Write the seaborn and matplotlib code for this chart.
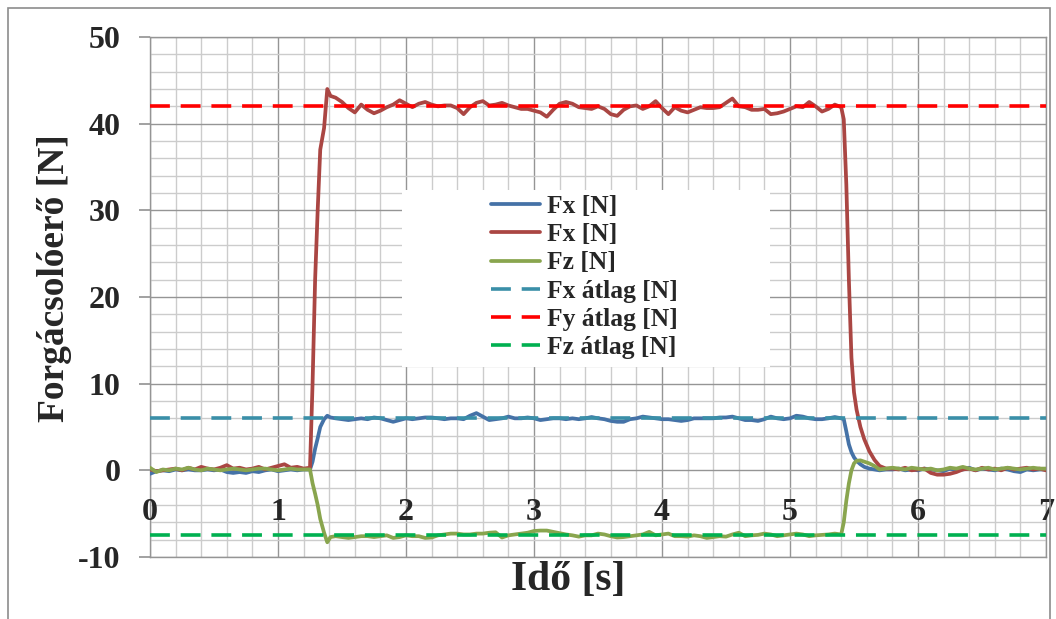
import numpy as np
import pandas as pd
import matplotlib
matplotlib.use("Agg")
import matplotlib.pyplot as plt
from matplotlib.patches import Rectangle
from matplotlib.ticker import MultipleLocator
import seaborn as sns

# time axis [s]
t = [0.00, 0.05, 0.10, 0.15, 0.20, 0.25, 0.30, 0.35, 0.40, 0.45,
     0.50, 0.55, 0.60, 0.65, 0.70, 0.75, 0.80, 0.85, 0.90, 0.95,
     1.00, 1.05, 1.10, 1.15, 1.20, 1.25,
     1.27, 1.29, 1.31, 1.33, 1.36, 1.385, 1.41,
     1.45, 1.50, 1.55, 1.60, 1.65, 1.70, 1.75, 1.80, 1.85, 1.90,
     1.95, 2.00, 2.05, 2.10, 2.15, 2.20, 2.25, 2.30, 2.35, 2.40,
     2.45, 2.50, 2.55, 2.60, 2.65, 2.70, 2.75, 2.80, 2.85, 2.90,
     2.95, 3.00, 3.05, 3.10, 3.15, 3.20, 3.25, 3.30, 3.35, 3.40,
     3.45, 3.50, 3.55, 3.60, 3.65, 3.70, 3.75, 3.80, 3.85, 3.90,
     3.95, 4.00, 4.05, 4.10, 4.15, 4.20, 4.25, 4.30, 4.35, 4.40,
     4.45, 4.50, 4.55, 4.60, 4.65, 4.70, 4.75, 4.80, 4.85, 4.90,
     4.95, 5.00, 5.05, 5.10, 5.15, 5.20, 5.25, 5.30, 5.35, 5.40,
     5.42, 5.44, 5.46, 5.48, 5.50, 5.52, 5.55, 5.58, 5.62, 5.66, 5.70, 5.75,
     5.80, 5.85, 5.90, 5.95, 6.00, 6.05, 6.10, 6.15, 6.20, 6.25,
     6.30, 6.35, 6.40, 6.45, 6.50, 6.55, 6.60, 6.65, 6.70, 6.75,
     6.80, 6.85, 6.90, 6.95, 7.00]

fx = [-0.4, -0.1, 0.0, -0.1, 0.1, 0.0, 0.1, 0.0, 0.0, 0.1,
      0.0, 0.1, -0.2, -0.3, -0.2, -0.3, -0.1, -0.2, 0.0, 0.1,
      -0.1, 0.0, 0.1, 0.0, 0.1, 0.1,
      1.0, 2.5, 3.7, 5.0, 5.9, 6.3, 6.1,
      6.0, 5.9, 5.8, 5.9, 6.0, 5.9, 6.1, 6.0, 5.8, 5.6,
      5.8, 6.0, 5.9, 6.0, 6.1, 6.1, 6.0, 5.9, 6.0, 6.0,
      5.9, 6.3, 6.6, 6.2, 5.8, 5.9, 6.0, 6.2, 6.0, 6.0,
      6.1, 6.0, 5.8, 5.9, 6.0, 6.0, 5.9, 6.0, 5.9, 6.0,
      6.15, 6.0, 5.9, 5.7, 5.6, 5.6, 5.9, 6.0, 6.2, 6.1,
      6.0, 5.9, 5.9, 5.8, 5.7, 5.8, 6.0, 6.0, 6.0, 6.0,
      6.1, 6.1, 6.2, 6.0, 5.8, 5.8, 5.7, 5.9, 6.2, 6.0,
      5.9, 6.0, 6.3, 6.2, 6.0, 5.9, 5.9, 6.0, 6.15, 6.0,
      5.9, 4.5, 3.0, 2.1, 1.5, 1.1, 0.7, 0.4, 0.2, 0.1, 0.0, 0.1,
      0.1, 0.2, 0.0, 0.1, 0.0, 0.2, 0.1, 0.0, -0.1, 0.2,
      0.0, 0.1, 0.3, 0.0, 0.2, 0.1, 0.0, 0.2, 0.1, -0.1,
      -0.2, 0.1, 0.0, 0.1, 0.1]

fy = [0.1, -0.1, 0.0, 0.1, 0.2, 0.0, 0.3, 0.1, 0.4, 0.2,
      0.1, 0.3, 0.6, 0.2, 0.3, 0.1, 0.2, 0.4, 0.1, 0.3,
      0.5, 0.7, 0.3, 0.4, 0.2, 0.3,
      10.0, 22.0, 30.0, 37.0, 39.5, 44.0, 43.2,
      43.0, 42.5, 41.8, 41.3, 42.2, 41.6, 41.2, 41.5, 41.9, 42.2,
      42.7, 42.3, 41.9, 42.3, 42.5, 42.2, 42.0, 42.1, 42.1, 41.8,
      41.1, 41.9, 42.4, 42.6, 42.1, 42.2, 42.4, 42.1, 41.9, 41.7,
      41.7, 41.5, 41.3, 40.8, 41.6, 42.3, 42.5, 42.3, 41.9, 41.8,
      41.7, 42.0, 41.7, 41.1, 40.9, 41.6, 42.0, 42.1, 41.7, 42.0,
      42.6, 41.8, 41.1, 41.9, 41.5, 41.3, 41.6, 41.9, 41.8, 41.8,
      41.9, 42.4, 42.9, 42.0, 41.9, 41.6, 41.6, 41.7, 41.1, 41.2,
      41.4, 41.7, 42.0, 41.9, 42.5, 42.0, 41.4, 41.7, 42.2, 41.9,
      40.5, 33.0, 22.0, 13.0, 9.0, 7.0, 5.0, 3.6, 2.2, 1.2, 0.5, 0.2,
      0.2, 0.1, 0.3, 0.0, 0.1, 0.2, -0.3, -0.5, -0.5, -0.4,
      -0.2, 0.1, 0.2, 0.0, 0.3, 0.1, 0.2, 0.0, 0.3, 0.1,
      0.2, 0.3, 0.1, 0.2, 0.0]

fz = [0.3, -0.2, 0.1, 0.0, 0.2, 0.1, 0.3, 0.1, 0.0, 0.2,
      0.1, 0.0, 0.1, 0.2, 0.1, 0.0, 0.1, 0.2, 0.2, 0.1,
      0.0, 0.1, 0.2, 0.1, 0.1, 0.1,
      -1.5, -2.7, -4.0, -5.6, -7.2, -8.3, -7.7,
      -7.6, -7.7, -7.8, -7.7, -7.6, -7.6, -7.7, -7.6, -7.5, -7.8,
      -7.7, -7.5, -7.6, -7.6, -7.8, -7.75, -7.5, -7.4, -7.3, -7.3,
      -7.4, -7.4, -7.3, -7.3, -7.2, -7.15, -7.75, -7.5, -7.4, -7.3,
      -7.2, -7.0, -6.95, -6.95, -7.1, -7.25, -7.4, -7.5, -7.65, -7.5,
      -7.5, -7.3, -7.4, -7.6, -7.75, -7.7, -7.6, -7.5, -7.4, -7.1,
      -7.5, -7.4, -7.3, -7.6, -7.6, -7.65, -7.5, -7.6, -7.8, -7.7,
      -7.6, -7.65, -7.4, -7.2, -7.6, -7.5, -7.45, -7.3, -7.4, -7.6,
      -7.5, -7.4, -7.3, -7.4, -7.6, -7.5, -7.45, -7.4, -7.3, -7.4,
      -6.0, -3.5, -1.5, 0.0, 0.8, 1.1, 1.15, 1.0, 0.8, 0.5, 0.1, 0.2,
      0.3, 0.2, 0.1, 0.3, 0.2, 0.1, 0.2, 0.0, 0.1, 0.3,
      0.2, 0.4, 0.2, 0.1, 0.2, 0.3, 0.1, 0.2, 0.3, 0.2,
      0.1, 0.2, 0.3, 0.2, 0.2]

series_labels = ["Fx [N]", "Fx [N]", "Fz [N]"]
series_colors = ["#4572A7", "#AA4643", "#89A54E"]

avg_values = [6.0, 42.0, -7.5]
avg_labels = ["Fx átlag [N]", "Fy átlag [N]", "Fz átlag [N]"]
avg_colors = ["#3A8FA8", "#FF0000", "#00B050"]

x_ticks = [0, 1, 2, 3, 4, 5, 6, 7]
y_ticks = [-10, 0, 10, 20, 30, 40, 50]

sns.set_theme(style="white")
plt.rcParams['font.family'] = ['Liberation Serif', 'DejaVu Serif']

fig = plt.figure(figsize=(10.56, 6.19), dpi=100)
ax = fig.add_axes([150 / 1056, 1 - 557 / 619, 896 / 1056, 520 / 619])

df = pd.DataFrame({"t": t, "fx": fx, "fy": fy, "fz": fz})
for col, lab, c in zip(["fx", "fy", "fz"], series_labels, series_colors):
    sns.lineplot(data=df, x="t", y=col, ax=ax, color=c, lw=2.7, label=lab,
                 zorder=3, solid_capstyle="round", solid_joinstyle="round")

# mean value lines
for v, lab, c in zip(avg_values, avg_labels, avg_colors):
    ax.axhline(v, color=c, lw=2.6, ls=(0, (5.5, 3.0)), label=lab, zorder=4)

ax.set_xlim(0, 7)
ax.set_ylim(-10, 50)
ax.xaxis.set_major_locator(MultipleLocator(1))
ax.xaxis.set_minor_locator(MultipleLocator(0.2))
ax.yaxis.set_major_locator(MultipleLocator(10))
ax.yaxis.set_minor_locator(MultipleLocator(2))
ax.grid(which="major", color="#959595", lw=1.0, zorder=0)
ax.grid(which="minor", color="#cccccc", lw=1.0, zorder=0)
ax.set_axisbelow(True)
for s in ax.spines.values():
    s.set_color("#959595")
    s.set_linewidth(1.0)

ax.set_yticks(y_ticks)
ax.set_yticklabels([str(v) for v in y_ticks], fontsize=23, fontweight="bold")
ax.tick_params(axis="y", which="major", length=8, color="#959595", pad=13, left=True)
ax.tick_params(axis="y", which="minor", length=0)
ax.set_xticks(x_ticks)
ax.set_xticklabels([])
ax.tick_params(axis="x", which="both", length=0)
# x tick labels sit inside the plot, as in the Excel original
for xv in x_ticks:
    ax.text(xv, -4.85, str(xv), ha="center", va="center", fontsize=23,
            fontweight="bold", zorder=5)

ax.set_xlabel("")
ax.set_ylabel("")
fig.text(55 / 1056, 1 - 278 / 619, "Forgácsolóerő [N]", rotation=90,
         ha="center", va="center", fontsize=27, fontweight="bold")
fig.text(568 / 1056, 1 - 580 / 619, "Idő [s]", ha="center", va="center",
         fontsize=30, fontweight="bold")

# white legend area
ax.add_patch(Rectangle(((402 - 150) / 896, (557 - 367) / 520), 368 / 896, 177 / 520,
                       transform=ax.transAxes, facecolor="white", edgecolor="none",
                       zorder=2))
leg = ax.legend(loc="center", bbox_to_anchor=((584 - 150) / 896, (557 - 277) / 520),
                frameon=False, prop={"family": "Liberation Serif", "weight": "bold", "size": 18.4},
                handlelength=1.95, handletextpad=0.25, labelspacing=0.2, borderpad=0.2)
leg.set_zorder(6)

# outer chart border
fig.patches.append(Rectangle((8 / 1056, -0.02), 1042 / 1056, 1 - 8 / 619 + 0.02,
                             transform=fig.transFigure, fill=False,
                             edgecolor="#8c8c8c", lw=1.2))

fig.savefig("out.png", dpi=100)
